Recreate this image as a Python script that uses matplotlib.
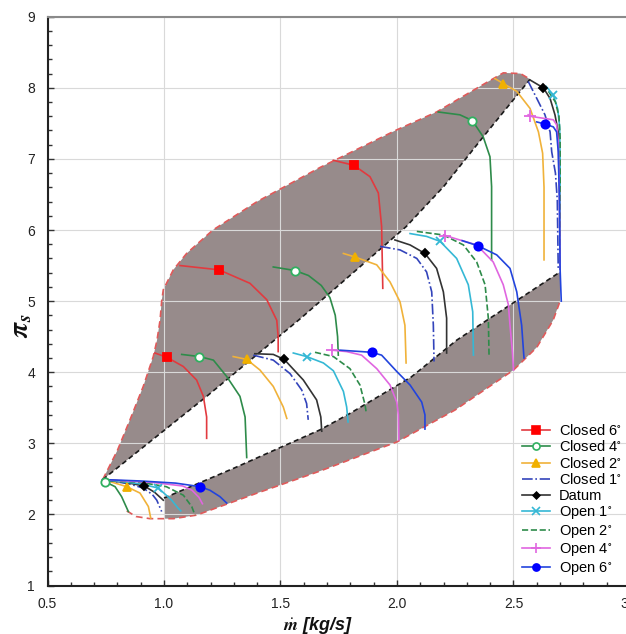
import matplotlib
matplotlib.use('Agg')
import matplotlib.pyplot as plt
from matplotlib.lines import Line2D
from matplotlib.ticker import MultipleLocator, FormatStrFormatter

plt.rcParams['font.family'] = ['Liberation Sans', 'DejaVu Sans']
plt.rcParams['mathtext.fontset'] = 'stix'

# ---------------- data ----------------
labels = ['Closed 6$^{\\circ}$', 'Closed 4$^{\\circ}$', 'Closed 2$^{\\circ}$', 'Closed 1$^{\\circ}$',
          'Datum', 'Open 1$^{\\circ}$', 'Open 2$^{\\circ}$', 'Open 4$^{\\circ}$', 'Open 6$^{\\circ}$']

# envelope (red dashed) - upper / surge side
env_up_m = [0.737, 0.80, 0.854, 0.911, 0.954, 0.97, 0.983, 0.99, 0.997, 1.04, 1.097,
            1.21, 1.40, 1.67, 2.00, 2.17, 2.356, 2.456, 2.53, 2.571]
env_up_pr = [2.49, 2.90, 3.33, 3.80, 4.22, 4.45, 4.73, 5.00, 5.16, 5.44, 5.67,
             6.00, 6.40, 6.88, 7.41, 7.66, 8.02, 8.21, 8.20, 8.12]
# envelope (red dashed) - lower / choke side
env_lo_m = [0.84, 0.88, 0.94, 1.00, 1.04, 1.14, 1.40, 1.67, 2.00, 2.25, 2.50, 2.60, 2.67, 2.70]
env_lo_pr = [2.05, 1.97, 1.94, 1.94, 1.94, 1.99, 2.30, 2.61, 3.02, 3.47, 4.03, 4.35, 4.73, 5.00]
# black dashed boundaries
blk_up_m = [0.737, 1.183, 1.584, 2.04, 2.20, 2.37, 2.571]
blk_up_pr = [2.49, 3.66, 4.75, 6.05, 6.61, 7.31, 8.12]
blk_lo_m = [1.00, 1.30, 1.67, 1.798, 2.06, 2.256, 2.70]
blk_lo_pr = [2.23, 2.65, 3.19, 3.42, 3.93, 4.45, 5.41]

# speed lines per configuration (mass flow, pressure ratio)
closed6_m = [[0.961, 1.012, 1.083, 1.14, 1.169, 1.183, 1.183],
             [1.069, 1.236, 1.369, 1.441, 1.484, 1.49, 1.49],
             [1.727, 1.815, 1.884, 1.92, 1.934, 1.939]]
closed6_pr = [[4.27, 4.21, 4.08, 3.89, 3.66, 3.37, 3.07],
              [5.50, 5.44, 5.25, 5.02, 4.73, 4.50, 4.29],
              [6.98, 6.91, 6.75, 6.52, 6.05, 5.18]]
closed6_mk_m = [1.012, 1.236, 1.815]
closed6_mk_pr = [4.21, 5.44, 6.91]

closed4_m = [[0.737, 0.747, 0.79, 0.818, 0.847],
             [1.076, 1.152, 1.212, 1.269, 1.326, 1.348, 1.355],
             [1.469, 1.562, 1.62, 1.675, 1.712, 1.735, 1.745, 1.748],
             [2.177, 2.27, 2.323, 2.37, 2.399, 2.406, 2.406]]
closed4_pr = [[2.49, 2.46, 2.39, 2.25, 2.04],
              [4.25, 4.22, 4.17, 3.94, 3.66, 3.37, 2.80],
              [5.48, 5.43, 5.36, 5.22, 5.05, 4.80, 4.50, 4.24],
              [7.66, 7.62, 7.54, 7.31, 7.03, 6.61, 5.58]]
closed4_mk_m = [0.747, 1.152, 1.562, 2.323]
closed4_mk_pr = [2.46, 4.22, 5.43, 7.54]

closed2_m = [[0.737, 0.79, 0.84, 0.897, 0.933, 0.943],
             [1.297, 1.355, 1.412, 1.469, 1.512, 1.527],
             [1.77, 1.82, 1.913, 1.97, 2.013, 2.034, 2.039],
             [2.42, 2.456, 2.514, 2.571, 2.607, 2.625, 2.631, 2.631]]
closed2_pr = [[2.49, 2.44, 2.39, 2.30, 2.11, 1.95],
              [4.22, 4.18, 4.03, 3.80, 3.51, 3.35],
              [5.67, 5.62, 5.51, 5.27, 4.99, 4.66, 4.13],
              [8.13, 8.06, 7.95, 7.71, 7.38, 7.08, 6.60, 5.58]]
closed2_mk_m = [0.84, 1.355, 1.82, 2.456]
closed2_mk_pr = [2.39, 4.18, 5.62, 8.06]

closed1_m = [[0.737, 0.85, 0.911, 0.95, 0.969, 0.99],
             [1.383, 1.469, 1.541, 1.591, 1.612, 1.619],
             [1.927, 2.013, 2.085, 2.127, 2.149, 2.156, 2.159],
             [2.563, 2.60, 2.635, 2.657, 2.664, 2.68, 2.688, 2.692]]
closed1_pr = [[2.49, 2.43, 2.37, 2.28, 2.20, 2.04],
              [4.24, 4.17, 3.98, 3.75, 3.56, 3.33],
              [5.77, 5.72, 5.60, 5.41, 5.13, 4.66, 4.15],
              [8.09, 7.85, 7.62, 7.38, 7.10, 6.80, 6.42, 5.45]]
closed1_mk_m = []
closed1_mk_pr = []

datum_m = [[0.737, 0.85, 0.915, 0.96, 0.997],
           [1.39, 1.469, 1.516, 1.598, 1.655, 1.673, 1.677],
           [1.991, 2.056, 2.12, 2.17, 2.199, 2.213, 2.213],
           [2.571, 2.628, 2.657, 2.678, 2.692, 2.698, 2.70]]
datum_pr = [[2.49, 2.44, 2.40, 2.31, 2.20],
            [4.26, 4.25, 4.18, 3.89, 3.61, 3.37, 3.17],
            [5.86, 5.79, 5.67, 5.46, 5.13, 4.76, 4.27],
            [8.11, 8.00, 7.85, 7.62, 7.38, 6.80, 5.45]]
datum_mk_m = [0.915, 1.516, 2.12, 2.628]
datum_mk_pr = [2.40, 4.18, 5.67, 8.00]

open1_m = [[0.737, 0.90, 0.976, 1.033, 1.06, 1.072],
           [1.555, 1.612, 1.684, 1.727, 1.77, 1.784, 1.79],
           [2.056, 2.127, 2.185, 2.256, 2.306, 2.325, 2.328],
           [2.64, 2.671, 2.69, 2.698, 2.70, 2.70]]
open1_pr = [[2.49, 2.43, 2.37, 2.20, 2.09, 2.05],
            [4.27, 4.22, 4.13, 4.02, 3.73, 3.51, 3.30],
            [5.95, 5.91, 5.84, 5.60, 5.23, 4.85, 4.24],
            [8.02, 7.90, 7.70, 7.45, 7.00, 5.45]]
open1_mk_m = [0.976, 1.612, 2.185, 2.671]
open1_mk_pr = [2.37, 4.22, 5.84, 7.90]

open2_m = [[0.737, 0.90, 1.01, 1.083, 1.119, 1.133],
           [1.648, 1.727, 1.798, 1.841, 1.863, 1.867],
           [2.085, 2.199, 2.285, 2.342, 2.378, 2.392, 2.395],
           [2.65, 2.68, 2.695, 2.70, 2.70]]
open2_pr = [[2.49, 2.45, 2.39, 2.27, 2.11, 1.99],
            [4.28, 4.22, 4.05, 3.82, 3.54, 3.45],
            [5.98, 5.93, 5.79, 5.55, 5.23, 4.76, 4.24],
            [7.95, 7.80, 7.60, 7.30, 5.45]]
open2_mk_m = []
open2_mk_pr = []

open4_m = [[0.737, 0.95, 1.08, 1.12, 1.15, 1.165],
           [1.72, 1.784, 1.848, 1.913, 1.97, 1.999, 2.006, 2.008],
           [2.20, 2.249, 2.342, 2.413, 2.456, 2.478, 2.485, 2.495, 2.50],
           [2.563, 2.571, 2.671, 2.685, 2.692, 2.697, 2.70]]
open4_pr = [[2.49, 2.45, 2.40, 2.34, 2.24, 2.15],
            [4.31, 4.29, 4.24, 4.05, 3.82, 3.58, 3.40, 3.05],
            [5.93, 5.88, 5.79, 5.55, 5.23, 4.95, 4.66, 4.30, 4.03],
            [7.62, 7.60, 7.55, 7.48, 7.24, 6.50, 5.45]]
open4_mk_m = [1.72, 2.206, 2.571]
open4_mk_pr = [4.31, 5.92, 7.60]

open6_m = [[0.737, 0.90, 1.05, 1.155, 1.197, 1.24, 1.269],
           [1.755, 1.891, 1.934, 1.999, 2.056, 2.106, 2.12, 2.12],
           [2.28, 2.346, 2.428, 2.485, 2.514, 2.535, 2.545],
           [2.60, 2.635, 2.671, 2.685, 2.692, 2.697, 2.70, 2.705]]
open6_pr = [[2.49, 2.47, 2.44, 2.39, 2.34, 2.25, 2.16],
            [4.31, 4.28, 4.24, 4.01, 3.82, 3.58, 3.40, 3.20],
            [5.85, 5.78, 5.65, 5.46, 5.13, 4.66, 4.20],
            [7.52, 7.49, 7.45, 7.38, 7.10, 6.42, 5.45, 5.00]]
open6_mk_m = [1.155, 1.891, 2.346, 2.635]
open6_mk_pr = [2.39, 4.28, 5.78, 7.49]

# ---------------- styles ----------------
styles = [
    dict(color='#e23a3f', ls='-', marker='s', mfc='#ff0000', mec='#ff0000', ms=6),
    dict(color='#2e8b4a', ls='-', marker='o', mfc='white', mec='#30b060', ms=6),
    dict(color='#f0b23a', ls='-', marker='^', mfc='#f0b000', mec='#f0b000', ms=6),
    dict(color='#3344bb', ls='-.', marker=None, mfc='none', mec='none', ms=0),
    dict(color='#333333', ls='-', marker='D', mfc='#000000', mec='#000000', ms=4),
    dict(color='#35b8d5', ls='-', marker='x', mfc='#35b8d5', mec='#35b8d5', ms=6),
    dict(color='#2e8b4a', ls='--', marker=None, mfc='none', mec='none', ms=0),
    dict(color='#e066e0', ls='-', marker='+', mfc='#e066e0', mec='#e066e0', ms=8),
    dict(color='#2244dd', ls='-', marker='o', mfc='#0000ff', mec='#0000ff', ms=6),
]
series = [
    (closed6_m, closed6_pr, closed6_mk_m, closed6_mk_pr),
    (closed4_m, closed4_pr, closed4_mk_m, closed4_mk_pr),
    (closed2_m, closed2_pr, closed2_mk_m, closed2_mk_pr),
    (closed1_m, closed1_pr, closed1_mk_m, closed1_mk_pr),
    (datum_m, datum_pr, datum_mk_m, datum_mk_pr),
    (open1_m, open1_pr, open1_mk_m, open1_mk_pr),
    (open2_m, open2_pr, open2_mk_m, open2_mk_pr),
    (open4_m, open4_pr, open4_mk_m, open4_mk_pr),
    (open6_m, open6_pr, open6_mk_m, open6_mk_pr),
]

# ---------------- figure ----------------
fig = plt.figure(figsize=(6.26, 6.34), dpi=100)
ax = fig.add_axes([47.5 / 626, 48.5 / 634, 582.5 / 626, 568.8 / 634])
ax.set_xlim(0.5, 3.0)
ax.set_ylim(1, 9)

fill_col = '#978b8b'
# upper shaded band
up_poly_m = env_up_m + blk_up_m[::-1]
up_poly_pr = env_up_pr + blk_up_pr[::-1]
ax.fill(up_poly_m, up_poly_pr, color=fill_col, lw=0, zorder=1)
# lower shaded band
lo_m = [m for m in env_lo_m if m >= 1.0]
lo_pr = [p for m, p in zip(env_lo_m, env_lo_pr) if m >= 1.0]
lo_poly_m = blk_lo_m + lo_m[::-1]
lo_poly_pr = blk_lo_pr + lo_pr[::-1]
ax.fill(lo_poly_m, lo_poly_pr, color=fill_col, lw=0, zorder=1)

ax.plot(env_up_m, env_up_pr, color='#e05a5a', ls=(0, (4, 2.5)), lw=1.2, zorder=3)
ax.plot(env_lo_m, env_lo_pr, color='#e05a5a', ls=(0, (4, 2.5)), lw=1.2, zorder=3)
ax.plot(blk_up_m, blk_up_pr, color='#1a1a1a', ls=(0, (3, 2)), lw=1.2, zorder=3)
ax.plot(blk_lo_m, blk_lo_pr, color='#1a1a1a', ls=(0, (3, 2)), lw=1.2, zorder=3)

handles = []
for (ms_, ps_, mkm, mkp), st in zip(series, styles):
    for mm, pp in zip(ms_, ps_):
        ax.plot(mm, pp, color=st['color'], ls=st['ls'], lw=1.2, zorder=4)
    if st['marker'] and mkm:
        ax.plot(mkm, mkp, ls='none', marker=st['marker'], ms=st['ms'],
                mfc=st['mfc'], mec=st['mec'], mew=1.3, zorder=5)
    handles.append(Line2D([], [], color=st['color'], ls=st['ls'], lw=1.2,
                          marker=st['marker'] if st['marker'] else None,
                          ms=st['ms'] * 0.85, mfc=st['mfc'], mec=st['mec'], mew=1.2))

# axes styling
ax.xaxis.set_major_locator(MultipleLocator(0.5))
ax.xaxis.set_minor_locator(MultipleLocator(0.1))
ax.yaxis.set_major_locator(MultipleLocator(1))
ax.yaxis.set_minor_locator(MultipleLocator(0.2))
ax.xaxis.set_major_formatter(FormatStrFormatter('%.1f'))
ax.yaxis.set_major_formatter(FormatStrFormatter('%d'))
ax.tick_params(which='both', direction='in', top=False, right=False, colors='#333333')
ax.tick_params(which='major', length=4, width=1, labelsize=10, labelcolor='#222222')
ax.tick_params(which='minor', length=3, width=1)
ax.tick_params(axis='x', which='major', pad=8)
ax.tick_params(axis='y', which='major', pad=9)
ax.set_axisbelow('line')
ax.grid(True, which='major', color='#d9d9d9', lw=0.8)
ax.spines['right'].set_visible(False)
ax.spines['top'].set_color('#8a8a8a')
ax.spines['top'].set_linewidth(1.5)
for s in ('left', 'bottom'):
    ax.spines[s].set_color('#222222')
    ax.spines[s].set_linewidth(1.5)

fig.text(21 / 626, 1 - 326 / 634, r'$\mathbfit{\pi}_{\mathbfit{s}}$', rotation=90,
         fontsize=20, ha='center', va='center', color='#111111')
fig.text(318 / 626, 1 - 625 / 634, r'$\dot{\mathbfit{m}}$ [kg/s]', fontsize=13,
         fontweight='bold', fontstyle='italic', ha='center', va='center', color='#111111')

fig.legend(handles, labels, loc='upper left',
           bbox_to_anchor=(521.7 / 626, 1 - 423.0 / 634),
           frameon=False, fontsize=10.5, handlelength=1.95, handletextpad=0.6,
           labelspacing=0.1, borderpad=0, borderaxespad=0)

fig.savefig('out.png', dpi=100)
